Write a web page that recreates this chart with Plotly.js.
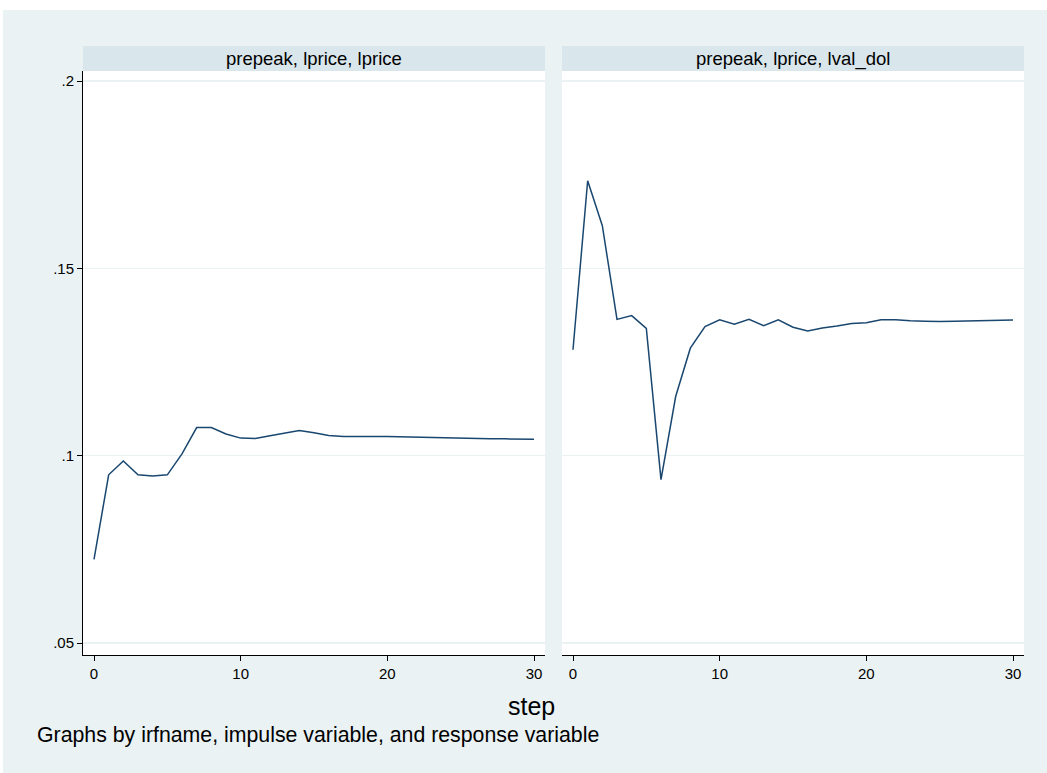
<!DOCTYPE html>
<html>
<head>
<meta charset="utf-8">
<script src="https://cdn.plot.ly/plotly-3.0.1.min.js"></script>
<style>html,body{margin:0;padding:0;background:#fff;}#chart{width:1047px;height:773px;}</style>
</head>
<body>
<div id="chart"></div>
<script>
// Data
const steps = [0,1,2,3,4,5,6,7,8,9,10,11,12,13,14,15,16,17,18,19,20,21,22,23,24,25,26,27,28,29,30];
const irfLprice = [0.0723,0.0949,0.0986,0.0949,0.0946,0.0949,0.1005,0.1075,0.1075,0.1058,0.1047,0.1046,0.1053,0.1061,0.1067,0.1061,0.1054,0.1051,0.1050,0.1051,0.1051,0.1050,0.1048,0.1047,0.1047,0.1046,0.1046,0.1045,0.1045,0.1044,0.1044];
const irfLvalDol = [0.1283,0.1734,0.1614,0.1364,0.1374,0.1340,0.0936,0.1158,0.1287,0.1345,0.1363,0.1351,0.1364,0.1347,0.1363,0.1343,0.1333,0.1341,0.1346,0.1353,0.1355,0.1363,0.1363,0.1360,0.1359,0.1358,0.1359,0.1360,0.1361,0.1362,0.1362];
const panelTitles = ["prepeak, lprice, lprice", "prepeak, lprice, lval_dol"];
const yTickVals = [0.05, 0.10, 0.15, 0.20];
const yTickText = [".05", ".1", ".15", ".2"];
const xTickVals = [0, 10, 20, 30];
const xTitle = "step";
const note = "Graphs by irfname, impulse variable, and response variable";

const W = 1047, H = 773;
const px = x => x / W;
const py = y => 1 - y / H;
const lineColor = "#1a476f";
const bg = "#eaf2f3";
const stripColor = "#d9e6eb";
const font = "Liberation Sans, Arial, Helvetica, sans-serif";

const traces = [
  {x: steps, y: irfLprice, type: "scatter", mode: "lines", line: {color: lineColor, width: 1.5}, xaxis: "x", yaxis: "y", showlegend: false},
  {x: steps, y: irfLvalDol, type: "scatter", mode: "lines", line: {color: lineColor, width: 1.5}, xaxis: "x2", yaxis: "y2", showlegend: false}
];

const xRange = [-0.75, 30.75];
const yRange = [0.0468, 0.2027];
const yDom = [py(655), py(71)];

const xCommon = {
  range: xRange, tickvals: xTickVals, ticks: "outside", ticklen: 5, tickcolor: "#000", tickwidth: 1,
  showline: true, linecolor: "#000", linewidth: 1, showgrid: false, zeroline: false,
  tickfont: {family: font, size: 15, color: "#000"}
};

const layout = {
  width: W, height: H,
  margin: {l: 0, r: 0, t: 0, b: 0},
  paper_bgcolor: bg,
  plot_bgcolor: "#ffffff",
  font: {family: font, color: "#000"},
  xaxis: Object.assign({}, xCommon, {domain: [px(83), px(545)], anchor: "y"}),
  xaxis2: Object.assign({}, xCommon, {domain: [px(562), px(1024)], anchor: "y2"}),
  yaxis: {
    domain: yDom, range: yRange, tickvals: yTickVals, ticktext: yTickText,
    ticks: "outside", ticklen: 5, tickcolor: "#000", showline: true, linecolor: "#000", linewidth: 1,
    showgrid: true, gridcolor: bg, gridwidth: 1.5, zeroline: false,
    tickfont: {family: font, size: 15, color: "#000"}, anchor: "x"
  },
  yaxis2: {
    domain: yDom, range: yRange, tickvals: yTickVals, showticklabels: false, ticks: "",
    showline: false, showgrid: true, gridcolor: bg, gridwidth: 1.5, zeroline: false, anchor: "x2"
  },
  shapes: [
    {type: "rect", xref: "paper", yref: "paper", x0: 0, x1: 1, y0: py(10), y1: 1, fillcolor: "#ffffff", line: {width: 0}, layer: "below"},
    {type: "rect", xref: "paper", yref: "paper", x0: 0, x1: px(3), y0: 0, y1: 1, fillcolor: "#ffffff", line: {width: 0}, layer: "below"},
    {type: "rect", xref: "paper", yref: "paper", x0: px(83), x1: px(545), y0: py(71), y1: py(46), fillcolor: stripColor, line: {width: 0}, layer: "below"},
    {type: "rect", xref: "paper", yref: "paper", x0: px(562), x1: px(1024), y0: py(71), y1: py(46), fillcolor: stripColor, line: {width: 0}, layer: "below"}
  ],
  annotations: [
    {text: panelTitles[0], xref: "paper", yref: "paper", x: px(314), y: py(58.5), showarrow: false, xanchor: "center", yanchor: "middle", font: {family: font, size: 18.5, color: "#000"}},
    {text: panelTitles[1], xref: "paper", yref: "paper", x: px(793), y: py(58.5), showarrow: false, xanchor: "center", yanchor: "middle", font: {family: font, size: 18.5, color: "#000"}},
    {text: xTitle, xref: "paper", yref: "paper", x: px(531), y: py(706), showarrow: false, xanchor: "center", yanchor: "middle", font: {family: font, size: 25, color: "#000"}},
    {text: note, xref: "paper", yref: "paper", x: px(35), y: py(735), showarrow: false, xanchor: "left", yanchor: "middle", font: {family: font, size: 21.3, color: "#000"}}
  ]
};

Plotly.newPlot("chart", traces, layout, {displayModeBar: false, staticPlot: true});
</script>
</body>
</html>
